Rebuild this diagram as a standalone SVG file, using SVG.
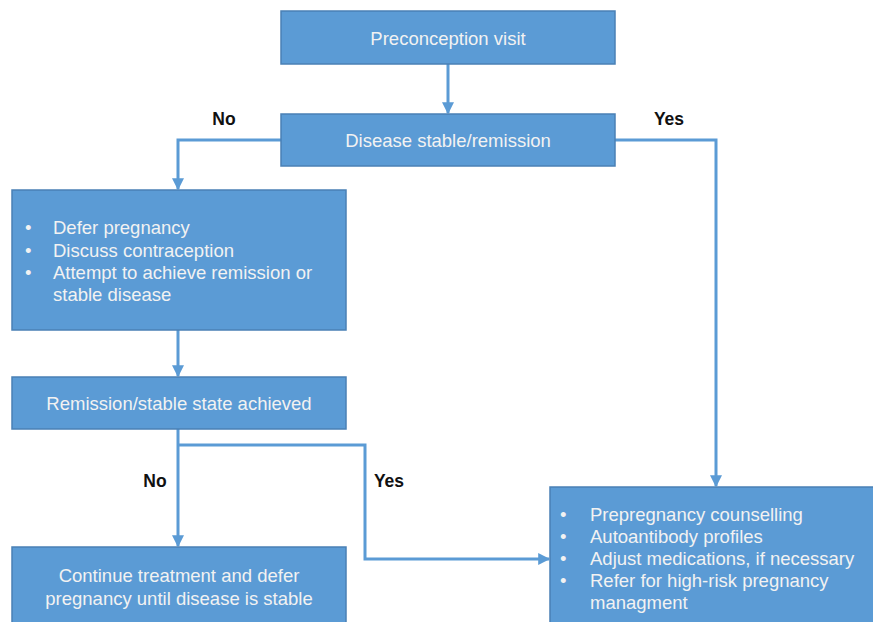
<svg xmlns="http://www.w3.org/2000/svg" width="873" height="622" viewBox="0 0 873 622">
<style>
.box{fill:#5B9BD5;stroke:#4A80B5;stroke-width:1.5}
.t{font-family:"Liberation Sans",Arial,sans-serif;font-size:18.5px;fill:#F2F2F2}
.c{text-anchor:middle}
.lab{font-family:"Liberation Sans",Arial,sans-serif;font-size:17.5px;font-weight:bold;fill:#111}
.ln{fill:none;stroke:#5B9BD5;stroke-width:3}
</style>
<defs>
<marker id="ah" viewBox="0 0 10 10" refX="9" refY="5" markerWidth="4" markerHeight="4" orient="auto" markerUnits="strokeWidth">
<path d="M0,0 L10,5 L0,10 z" fill="#5B9BD5"/>
</marker>
</defs>
<rect width="873" height="622" fill="#fff"/>
<g id="connectors">
<path class="ln" d="M448,64 V113" marker-end="url(#ah)"/>
<path class="ln" d="M281,140 H178 V189" marker-end="url(#ah)"/>
<path class="ln" d="M615,140 H716 V486" marker-end="url(#ah)"/>
<path class="ln" d="M178,330 V376" marker-end="url(#ah)"/>
<path class="ln" d="M178,429 V546" marker-end="url(#ah)"/>
<path class="ln" d="M178,445 H365 V559 H549" marker-end="url(#ah)"/>
</g>
<g id="n1"><rect class="box" x="281" y="11" width="334" height="53"/><text class="t c" x="448" y="45">Preconception visit</text></g>
<g id="n2"><rect class="box" x="281" y="114" width="334" height="52"/><text class="t c" x="448" y="147">Disease stable/remission</text></g>
<g id="n3"><rect class="box" x="12" y="190" width="334" height="140"/>
<text class="t"><tspan x="25" y="234">•</tspan><tspan x="53" y="234">Defer pregnancy</tspan><tspan x="25" y="257">•</tspan><tspan x="53" y="257">Discuss contraception</tspan><tspan x="25" y="279">•</tspan><tspan x="53" y="279">Attempt to achieve remission or</tspan><tspan x="53" y="301">stable disease</tspan></text></g>
<g id="n4"><rect class="box" x="12" y="377" width="334" height="52"/><text class="t c" x="179" y="410">Remission/stable state achieved</text></g>
<g id="n5"><rect class="box" x="12" y="547" width="334" height="80"/><text class="t c"><tspan x="179" y="582">Continue treatment and defer</tspan><tspan x="179" y="605">pregnancy until disease is stable</tspan></text></g>
<g id="n6"><rect class="box" x="550" y="487" width="330" height="140"/>
<text class="t"><tspan x="560" y="521">•</tspan><tspan x="590" y="521">Prepregnancy counselling</tspan><tspan x="560" y="543">•</tspan><tspan x="590" y="543">Autoantibody profiles</tspan><tspan x="560" y="565">•</tspan><tspan x="590" y="565">Adjust medications, if necessary</tspan><tspan x="560" y="587">•</tspan><tspan x="590" y="587">Refer for high-risk pregnancy</tspan><tspan x="590" y="609">managment</tspan></text></g>
<g id="labels">
<text class="lab" x="224" y="125" text-anchor="middle">No</text>
<text class="lab" x="669" y="125" text-anchor="middle">Yes</text>
<text class="lab" x="155" y="487" text-anchor="middle">No</text>
<text class="lab" x="389" y="487" text-anchor="middle">Yes</text>
</g>
</svg>
